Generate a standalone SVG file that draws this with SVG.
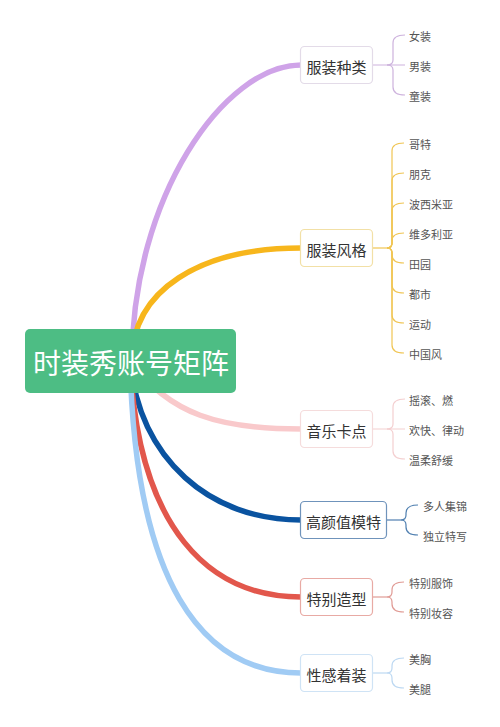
<svg xmlns="http://www.w3.org/2000/svg" width="500" height="727" viewBox="0 0 500 727">
<style>
text{font-family:"Noto Sans CJK SC","Noto Sans",sans-serif;dominant-baseline:central}
.main{fill:none;stroke-width:5.5;stroke-linecap:round}
.sub{fill:none;stroke-width:1.2}
.node{fill:#fff;stroke-width:1.2}
.nt{font-size:15px;fill:#333;text-anchor:middle}
.lt{font-size:11px;fill:#555}
</style>
<rect width="500" height="727" fill="#fff"/>
<g id="connectors">
<path class="main" stroke="#cfa3e8" d="M132,361 C132,198 224,65 301,65"/>
<path class="main" stroke="#f7b61c" d="M132,361 C132,290 200,248 301,248"/>
<path class="main" stroke="#f9c9cb" d="M130,361 C170,415 220,429 301,429"/>
<path class="main" stroke="#0a53a0" d="M130,361 C140,460 210,520 301,520"/>
<path class="main" stroke="#e2574c" d="M130,361 C138,530 210,597 301,597"/>
<path class="main" stroke="#a0cbf4" d="M130,361 C135,580 200,673 301,673"/>
<g stroke="#cdb2dd" class="sub">
<path class="sub" d="M372.5,65 L405,65"/>
<path class="sub" d="M387,65 Q393,65 393,60 L393,43 Q393,35 405,35"/>
<path class="sub" d="M387,65 Q393,65 393,70 L393,87 Q393,95 405,95"/>
</g>
<g stroke="#f0c553">
<path class="sub" d="M372.5,248 L387,248"/>
<path class="sub" d="M387,248 Q392,248 392,243 L392,151 Q392,143 404,143"/>
<path class="sub" d="M387,248 Q392,248 392,243 L392,181 Q392,173 404,173"/>
<path class="sub" d="M387,248 Q392,248 392,243 L392,211 Q392,203 404,203"/>
<path class="sub" d="M387,248 Q392,248 392,243 L392,241 Q392,233 404,233"/>
<path class="sub" d="M387,248 Q392,248 392,253 L392,255 Q392,263 404,263"/>
<path class="sub" d="M387,248 Q392,248 392,253 L392,285 Q392,293 404,293"/>
<path class="sub" d="M387,248 Q392,248 392,253 L392,315 Q392,323 404,323"/>
<path class="sub" d="M387,248 Q392,248 392,253 L392,345 Q392,353 404,353"/>
</g>
<g stroke="#f4cfd0">
<path class="sub" d="M372.5,429 L405,429"/>
<path class="sub" d="M387,429 Q393,429 393,424 L393,407 Q393,399 405,399"/>
<path class="sub" d="M387,429 Q393,429 393,434 L393,451 Q393,459 405,459"/>
</g>
<g stroke="#4f7fb0">
<path class="sub" d="M386.5,520 L401,520"/>
<path class="sub" d="M401,520 Q406,520 406,515 L406,513 Q406,505 418,505"/>
<path class="sub" d="M401,520 Q406,520 406,525 L406,527 Q406,535 418,535"/>
</g>
<g stroke="#e09a94">
<path class="sub" d="M372.5,597 L387,597"/>
<path class="sub" d="M387,597 Q392,597 392,592 L392,590 Q392,582 404,582"/>
<path class="sub" d="M387,597 Q392,597 392,602 L392,604 Q392,612 404,612"/>
</g>
<g stroke="#bcd8f2">
<path class="sub" d="M372.5,673 L387,673"/>
<path class="sub" d="M387,673 Q392,673 392,668 L392,666 Q392,658 404,658"/>
<path class="sub" d="M387,673 Q392,673 392,678 L392,680 Q392,688 404,688"/>
</g>
</g>
<g id="root">
<rect x="25" y="329" width="211" height="64" rx="5" fill="#4dbd84"/>
<text x="131" y="362" font-size="28" fill="#fff" text-anchor="middle">时装秀账号矩阵</text>
</g>
<g id="n1">
<rect class="node" x="300.5" y="46.5" width="72" height="37" rx="4" stroke="#e3dbe8"/>
<text class="nt" x="336.5" y="66">服装种类</text>
</g>
<g id="n1-leaves">
<text class="lt" x="409" y="36">女装</text>
<text class="lt" x="409" y="66">男装</text>
<text class="lt" x="409" y="96">童装</text>
</g>
<g id="n2">
<rect class="node" x="300.5" y="229.5" width="72" height="37" rx="4" stroke="#f2e0a6"/>
<text class="nt" x="336.5" y="249">服装风格</text>
</g>
<g id="n2-leaves">
<text class="lt" x="409" y="144">哥特</text>
<text class="lt" x="409" y="174">朋克</text>
<text class="lt" x="409" y="204">波西米亚</text>
<text class="lt" x="409" y="234">维多利亚</text>
<text class="lt" x="409" y="264">田园</text>
<text class="lt" x="409" y="294">都市</text>
<text class="lt" x="409" y="324">运动</text>
<text class="lt" x="409" y="354">中国风</text>
</g>
<g id="n3">
<rect class="node" x="300.5" y="410.5" width="72" height="37" rx="4" stroke="#f5dcdc"/>
<text class="nt" x="336.5" y="430">音乐卡点</text>
</g>
<g id="n3-leaves">
<text class="lt" x="409" y="400">摇滚、燃</text>
<text class="lt" x="409" y="430">欢快、律动</text>
<text class="lt" x="409" y="460">温柔舒缓</text>
</g>
<g id="n4">
<rect class="node" x="300.5" y="501.5" width="86" height="37" rx="4" stroke="#6f93bb"/>
<text class="nt" x="343.5" y="521">高颜值模特</text>
</g>
<g id="n4-leaves">
<text class="lt" x="423" y="506">多人集锦</text>
<text class="lt" x="423" y="536">独立特写</text>
</g>
<g id="n5">
<rect class="node" x="300.5" y="578.5" width="72" height="37" rx="4" stroke="#e8aaa4"/>
<text class="nt" x="336.5" y="598">特别造型</text>
</g>
<g id="n5-leaves">
<text class="lt" x="409" y="583">特别服饰</text>
<text class="lt" x="409" y="613">特别妆容</text>
</g>
<g id="n6">
<rect class="node" x="300.5" y="654.5" width="72" height="37" rx="4" stroke="#cfe3f5"/>
<text class="nt" x="336.5" y="674">性感着装</text>
</g>
<g id="n6-leaves">
<text class="lt" x="409" y="659">美胸</text>
<text class="lt" x="409" y="689">美腿</text>
</g>
</svg>
